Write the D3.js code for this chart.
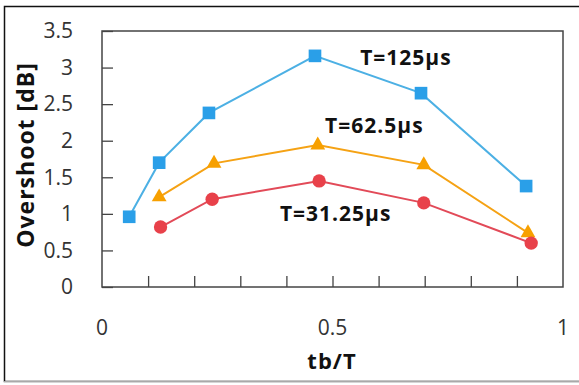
<!DOCTYPE html>
<html>
<head>
<meta charset="utf-8">
<script src="https://cdn.jsdelivr.net/npm/d3@7"></script>
<style>
  body { margin: 0; background: #fff; }
  svg { display: block; }
</style>
</head>
<body>
<svg id="chart" width="579" height="385"></svg>
<script>
// series
var x125 = [0.059, 0.124, 0.232, 0.462, 0.692, 0.920];
var y125 = [0.96, 1.70, 2.38, 3.16, 2.65, 1.38];
var x62 = [0.124, 0.243, 0.468, 0.698, 0.924];
var y62 = [1.23, 1.69, 1.94, 1.67, 0.74];
var x31 = [0.127, 0.239, 0.471, 0.698, 0.931];
var y31 = [0.82, 1.20, 1.45, 1.15, 0.60];

var yTicks = [0, 0.5, 1, 1.5, 2, 2.5, 3, 3.5];
var xTickMarks = [0.1, 0.2, 0.3, 0.4, 0.5, 0.6, 0.7, 0.8, 0.9];
var xTickLabels = [0, 0.5, 1];

var seriesLabels = [
  { text: "T=125\u00b5s", x: 0.56, y: 3.03 },
  { text: "T=62.5\u00b5s", x: 0.484, y: 2.1 },
  { text: "T=31.25\u00b5s", x: 0.386, y: 0.9 }
];

var svg = d3.select("#chart");
var plotL = 102, plotR = 563, plotT = 31, plotB = 287;

var x = d3.scaleLinear().domain([0, 1]).range([plotL, plotR]);
var y = d3.scaleLinear().domain([0, 3.5]).range([plotB, plotT]);

// outer border
svg.append("rect")
  .attr("x", 4.5).attr("y", 6.5)
  .attr("width", 590).attr("height", 375)
  .attr("fill", "none")
  .attr("stroke", "#111").attr("stroke-width", 1.5);
svg.append("line")
  .attr("x1", 4).attr("x2", 579).attr("y1", 382).attr("y2", 382)
  .attr("stroke", "#ddd").attr("stroke-width", 1.5);

// plot frame
svg.append("rect")
  .attr("x", plotL).attr("y", plotT)
  .attr("width", plotR - plotL).attr("height", plotB - plotT)
  .attr("fill", "none")
  .attr("stroke", "#444").attr("stroke-width", 1.5);

// y tick marks (inside) and labels
var yAxis = d3.axisLeft(y).tickValues(yTicks).tickSize(-11).tickPadding(29)
  .tickFormat(d3.format("~g"));
var gy = svg.append("g").attr("transform", "translate(" + plotL + ",0)").call(yAxis);
gy.select(".domain").remove();
gy.selectAll(".tick line").attr("stroke", "#444").attr("stroke-width", 1.3);
gy.selectAll(".tick text")
  .style("font-family", "'Open Sans', sans-serif")
  .style("font-size", "21px")
  .attr("fill", "#333");

// x tick marks (inside)
var xAxis = d3.axisBottom(x).tickValues(xTickMarks).tickSize(-11).tickFormat("");
var gx = svg.append("g").attr("transform", "translate(0," + plotB + ")").call(xAxis);
gx.select(".domain").remove();
gx.selectAll(".tick line").attr("stroke", "#444").attr("stroke-width", 1.3);

svg.append("g").selectAll("text")
  .data(xTickLabels)
  .enter()
  .append("text")
  .attr("x", d => x(d))
  .attr("y", 335)
  .attr("text-anchor", "middle")
  .style("font-family", "'Open Sans', sans-serif")
  .style("font-size", "21px")
  .attr("fill", "#333")
  .text(d => d3.format("~g")(d));

// axis titles
svg.append("text")
  .attr("x", 332).attr("y", 369)
  .attr("text-anchor", "middle")
  .style("font-family", "'Open Sans', sans-serif")
  .style("font-size", "22px").style("font-weight", "bold")
  .style("letter-spacing", "1px")
  .attr("fill", "#111")
  .text("tb/T");

svg.append("text")
  .attr("transform", "translate(34,155) rotate(-90)")
  .attr("text-anchor", "middle")
  .style("font-family", "'Open Sans', sans-serif")
  .style("font-size", "23px").style("font-weight", "bold")
  .style("letter-spacing", "1px")
  .attr("fill", "#111")
  .text("Overshoot [dB]");

var line = d3.line().x(d => x(d[0])).y(d => y(d[1]));

function drawSeries(xs, ys, color, markerColor, shape) {
  var pts = xs.map((v, i) => [v, ys[i]]);
  svg.append("path")
    .datum(pts)
    .attr("d", line)
    .attr("fill", "none")
    .attr("stroke", color)
    .attr("stroke-width", 2);
  svg.append("g").selectAll("path")
    .data(pts)
    .enter()
    .append("path")
    .attr("transform", d => "translate(" + x(d[0]) + "," + y(d[1]) + ")")
    .attr("d", d3.symbol().type(shape).size(shape === d3.symbolTriangle ? 95 : (shape === d3.symbolSquare ? 160 : 140)))
    .attr("fill", markerColor);
}

drawSeries(x125, y125, "#4cb0e4", "#2a9fe8", d3.symbolSquare);
drawSeries(x62, y62, "#f5a214", "#f7a000", d3.symbolTriangle);
drawSeries(x31, y31, "#e24a58", "#e8414a", d3.symbolCircle);

svg.append("g").selectAll("text")
  .data(seriesLabels)
  .enter()
  .append("text")
  .attr("x", d => x(d.x))
  .attr("y", d => y(d.y))
  .style("font-family", "'Open Sans', sans-serif")
  .style("font-size", "21px").style("font-weight", "bold")
  .style("letter-spacing", "1px")
  .attr("fill", "#111")
  .text(d => d.text);
</script>
</body>
</html>
